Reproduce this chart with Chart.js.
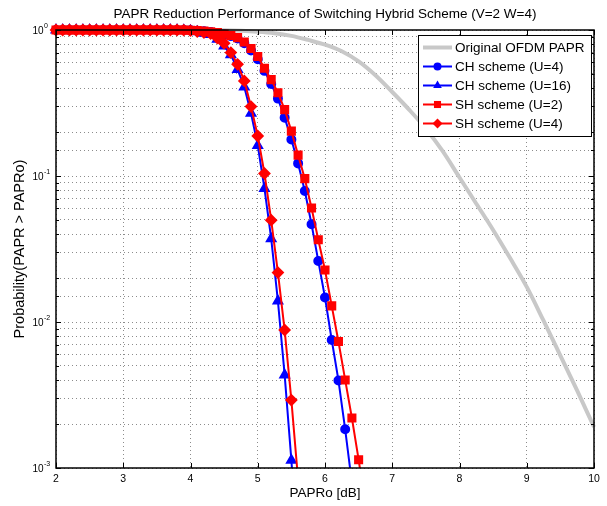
<!DOCTYPE html>
<html>
<head>
<meta charset="utf-8">
<title>PAPR Reduction Performance</title>
<script src="https://cdn.jsdelivr.net/npm/chart.js"></script>
<style>
html, body { margin: 0; padding: 0; background: #fff; }
#wrap { width: 607px; height: 506px; position: relative; }
</style>
</head>
<body>
<div id="wrap"><canvas id="papr"></canvas></div>
<script>
// data
var paprX = [2.0, 2.1, 2.2, 2.3, 2.4, 2.5, 2.6, 2.7, 2.8, 2.9,
	3.0, 3.1, 3.2, 3.3, 3.4, 3.5, 3.6, 3.7, 3.8, 3.9,
	4.0, 4.1, 4.2, 4.3, 4.4, 4.5, 4.6, 4.7, 4.8, 4.9,
	5.0, 5.1, 5.2, 5.3, 5.4, 5.5, 5.6, 5.7, 5.8, 5.9,
	6.0, 6.1, 6.2, 6.3, 6.4, 6.5, 6.6];

var origX = [2, 3, 4, 4.5, 5, 5.25, 5.5, 5.75, 6, 6.25, 6.5, 6.75, 7, 7.25, 7.5, 7.75,
	8, 8.25, 8.5, 8.75, 9, 9.25, 9.5, 9.75, 10];
var origP = [1, 1, 0.999, 0.995, 0.973, 0.951, 0.912, 0.855, 0.794, 0.716, 0.61, 0.49, 0.376, 0.285, 0.211, 0.148,
	0.0977, 0.0646, 0.0427, 0.0275, 0.0174, 0.0102, 0.00589, 0.00339, 0.00191];

var chU4 = [1, 1, 1, 1, 1, 1, 1, 1, 1, 1,
	1, 1, 1, 1, 1, 1, 1, 1, 1, 1,
	0.995, 0.99, 0.982, 0.97, 0.955, 0.933, 0.908, 0.875, 0.813, 0.724,
	0.631, 0.525, 0.427, 0.339, 0.251, 0.178, 0.122, 0.0789, 0.0467, 0.0262,
	0.0147, 0.00753, 0.00398, 0.00184, 0.00079];

var chU16 = [1, 1, 1, 1, 1, 1, 1, 1, 1, 1,
	1, 1, 1, 1, 1, 1, 1, 1, 1, 0.997,
	0.987, 0.973, 0.95, 0.93, 0.865, 0.776, 0.676, 0.537, 0.407, 0.269,
	0.162, 0.082, 0.0372, 0.0139, 0.00434, 0.00113, 0.00025];

var shU2 = [1, 1, 1, 1, 1, 1, 1, 1, 1, 1,
	1, 1, 1, 1, 1, 1, 1, 1, 1, 1,
	0.995, 0.991, 0.984, 0.973, 0.959, 0.94, 0.916, 0.887, 0.828, 0.746,
	0.658, 0.547, 0.457, 0.372, 0.285, 0.203, 0.139, 0.0959, 0.0604, 0.0366,
	0.0227, 0.0129, 0.00735, 0.00401, 0.0022, 0.00114, 0.00056];

var shU4 = [1, 1, 1, 1, 1, 1, 1, 1, 1, 1,
	1, 1, 1, 1, 1, 1, 1, 1, 1, 0.997,
	0.989, 0.977, 0.96, 0.944, 0.881, 0.81, 0.70, 0.582, 0.448, 0.299,
	0.188, 0.104, 0.0498, 0.0218, 0.00881, 0.00292, 0.00083];

var yMajor = [1, 0.1, 0.01, 0.001];
var yExp = ['0', '-1', '-2', '-3'];

var FONT = '"Liberation Sans", Arial, Helvetica, sans-serif';
var TITLE = 'PAPR Reduction Performance of Switching Hybrid Scheme (V=2 W=4)';

function pts(xs, ys) {
	var out = [];
	for (var i = 0; i < ys.length; i++) out.push({x: xs[i], y: ys[i]});
	return out;
}

// marker shapes, same as the chart.js ones
function mark(ctx, style, x, y, r) {
	ctx.beginPath();
	if (style == 'circle') ctx.arc(x, y, r, 0, Math.PI * 2);
	else if (style == 'triangle') {
		ctx.moveTo(x, y - r);
		ctx.lineTo(x + r * 0.866, y + r * 0.5);
		ctx.lineTo(x - r * 0.866, y + r * 0.5);
		ctx.closePath();
	}
	else if (style == 'rect') {
		var s = r * Math.SQRT1_2;
		ctx.rect(x - s, y - s, 2 * s, 2 * s);
	}
	else if (style == 'rectRot') {
		ctx.moveTo(x, y - r);
		ctx.lineTo(x + r, y);
		ctx.lineTo(x, y + r);
		ctx.lineTo(x - r, y);
		ctx.closePath();
	}
	ctx.fill();
}

// matlab look: box, inner ticks, 10^n labels, title, legend
var matlabFrame = {
	id: 'matlabFrame',
	afterDatasetsDraw: function(chart) {
		var ctx = chart.ctx, a = chart.chartArea;
		var xs = chart.scales.x, ys = chart.scales.y;
		ctx.save();

		ctx.strokeStyle = '#000';
		ctx.lineWidth = 1;
		ctx.beginPath();
		xs.ticks.forEach(function(t) {
			var px = Math.round(xs.getPixelForValue(t.value)) + 0.5;
			ctx.moveTo(px, a.bottom); ctx.lineTo(px, a.bottom - 5);
			ctx.moveTo(px, a.top); ctx.lineTo(px, a.top + 5);
		});
		ys.ticks.forEach(function(t) {
			var py = Math.round(ys.getPixelForValue(t.value)) + 0.5;
			var len = yMajor.indexOf(t.value) >= 0 ? 5 : 3;
			ctx.moveTo(a.left, py); ctx.lineTo(a.left + len, py);
			ctx.moveTo(a.right, py); ctx.lineTo(a.right - len, py);
		});
		ctx.stroke();

		ctx.lineWidth = 1.5;
		ctx.strokeRect(a.left, a.top, a.right - a.left, a.bottom - a.top);

		// y labels 10^n
		ctx.fillStyle = '#000';
		ctx.textBaseline = 'middle';
		yMajor.forEach(function(v, i) {
			var py = ys.getPixelForValue(v);
			ctx.font = '10px ' + FONT;
			ctx.textAlign = 'right';
			ctx.fillText('10', a.left - 12.5, py + 1);
			ctx.font = '7px ' + FONT;
			ctx.textAlign = 'left';
			ctx.fillText(yExp[i], a.left - 12, py - 4);
		});

		// title
		ctx.font = '13.5px ' + FONT;
		ctx.textAlign = 'center';
		ctx.fillText(TITLE, (a.left + a.right) / 2, 14);

		// legend
		var lx = a.right - 176, ly = a.top + 5, lw = 173, lh = 101;
		ctx.fillStyle = '#fff';
		ctx.fillRect(lx, ly, lw, lh);
		ctx.strokeStyle = '#000';
		ctx.lineWidth = 1;
		ctx.strokeRect(lx + 0.5, ly + 0.5, lw, lh);
		chart.data.datasets.forEach(function(ds, i) {
			var ry = ly + 12.5 + i * 19;
			ctx.strokeStyle = ds.borderColor;
			ctx.lineWidth = ds.borderWidth;
			ctx.beginPath();
			ctx.moveTo(lx + 5, ry); ctx.lineTo(lx + 34, ry);
			ctx.stroke();
			if (ds.pointRadius > 0) {
				ctx.fillStyle = ds.borderColor;
				mark(ctx, ds.pointStyle, lx + 19.5, ry, ds.pointRadius);
			}
			ctx.fillStyle = '#000';
			ctx.font = '13.5px ' + FONT;
			ctx.textAlign = 'left';
			ctx.fillText(ds.label, lx + 37, ry + 1);
		});
		ctx.restore();
	}
};

Chart.defaults.font.family = FONT;
Chart.defaults.color = '#000';

var clipBox = {left: 7, top: 7, right: 7, bottom: 0};

var chart = new Chart(document.getElementById('papr'), {
	type: 'line',
	data: {
		datasets: [{
			label: 'Original OFDM PAPR',
			data: pts(origX, origP),
			borderColor: '#c8c8c8',
			borderWidth: 4,
			pointRadius: 0,
			cubicInterpolationMode: 'monotone',
			clip: clipBox,
			order: 5
		}, {
			label: 'CH scheme (U=4)',
			data: pts(paprX, chU4),
			borderColor: '#0000ff',
			backgroundColor: '#0000ff',
			borderWidth: 2,
			pointStyle: 'circle',
			pointRadius: 4,
			clip: clipBox,
			order: 4
		}, {
			label: 'CH scheme (U=16)',
			data: pts(paprX, chU16),
			borderColor: '#0000ff',
			backgroundColor: '#0000ff',
			borderWidth: 2,
			pointStyle: 'triangle',
			pointRadius: 5,
			clip: clipBox,
			order: 3
		}, {
			label: 'SH scheme (U=2)',
			data: pts(paprX, shU2),
			borderColor: '#ff0000',
			backgroundColor: '#ff0000',
			borderWidth: 2,
			pointStyle: 'rect',
			pointRadius: 5,
			clip: clipBox,
			order: 2
		}, {
			label: 'SH scheme (U=4)',
			data: pts(paprX, shU4),
			borderColor: '#ff0000',
			backgroundColor: '#ff0000',
			borderWidth: 2,
			pointStyle: 'rectRot',
			pointRadius: 5,
			clip: clipBox,
			order: 1
		}]
	},
	options: {
		responsive: true,
		maintainAspectRatio: false,
		animation: false,
		layout: { padding: { top: 30, right: 13, left: 0, bottom: 0 } },
		elements: { line: { tension: 0 }, point: { borderWidth: 1 } },
		plugins: {
			legend: { display: false },
			title: { display: false },
			tooltip: { enabled: false }
		},
		scales: {
			x: {
				type: 'linear',
				min: 2,
				max: 10,
				afterFit: function(s) { s.height = 38; },
				ticks: { stepSize: 1, padding: 5, font: { size: 10.5 }, color: '#000', maxRotation: 0, autoSkip: false },
				grid: { color: '#8c8c8c', drawTicks: false, lineWidth: 1 },
				border: { display: false, dash: [1, 3] },
				title: { display: true, text: 'PAPRo [dB]', font: { size: 13.5 }, padding: { top: 0, bottom: 5 } }
			},
			y: {
				type: 'logarithmic',
				min: 0.001,
				max: 1,
				afterFit: function(s) { s.width = 56; },
				ticks: { display: false, autoSkip: false },
				grid: { color: '#8c8c8c', drawTicks: false, lineWidth: 1 },
				border: { display: false, dash: [1, 3] },
				title: { display: true, text: 'Probability(PAPR > PAPRo)', font: { size: 14.5 }, padding: { top: 11, bottom: 0 } }
			}
		}
	},
	plugins: [matlabFrame]
});
</script>
</body>
</html>
